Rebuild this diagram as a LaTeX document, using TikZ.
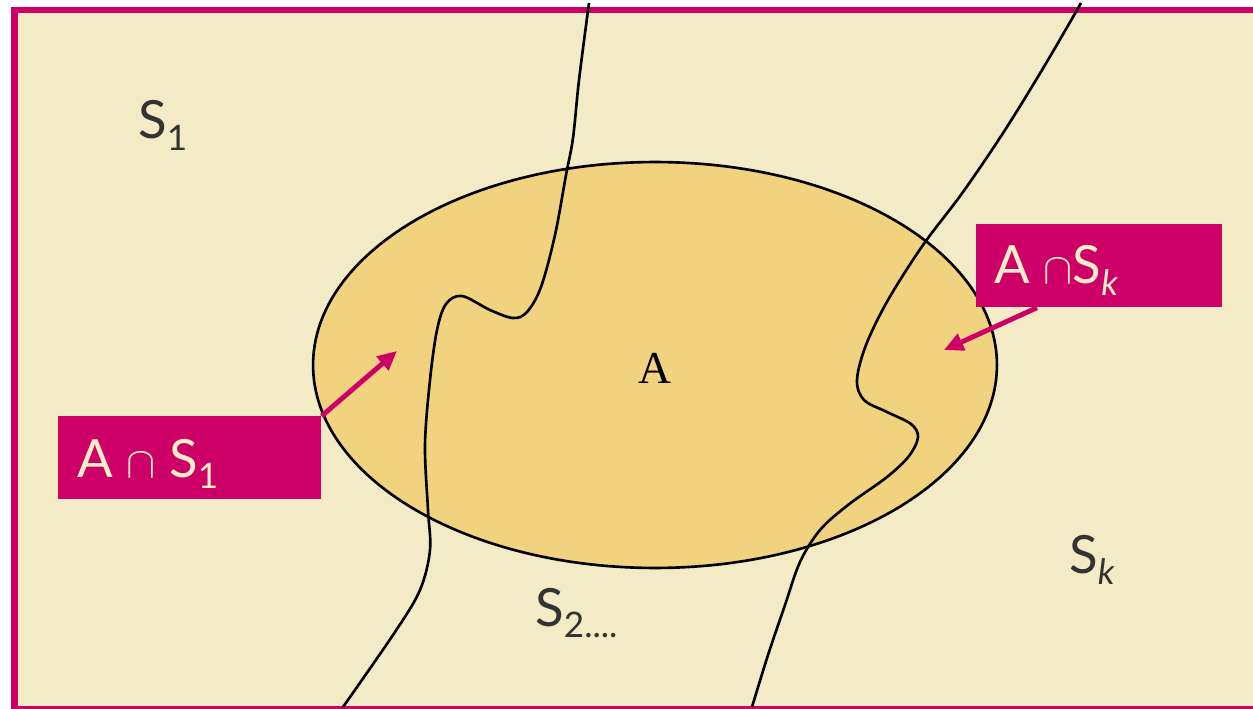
\documentclass[tikz,border=0pt]{standalone}
\usepackage{fontspec}
\setmainfont{Lato}
\newfontfamily\serifA{Liberation Serif}
\usetikzlibrary{arrows.meta}
\definecolor{bgcream}{HTML}{F3EBC6}
\definecolor{ellfill}{HTML}{F0D27F}
\definecolor{mag}{HTML}{CC0066}
\definecolor{txtdark}{HTML}{333333}
\definecolor{lbltxt}{HTML}{F5EDC8}
\newcommand\subx[1]{\raisebox{-6.5pt}{\fontsize{20}{20}\selectfont #1}}
\begin{document}
\begin{tikzpicture}[x=0.02cm,y=-0.02cm,
  curveline/.style={line width=1.5pt, black},
  lblbox/.style={fill=mag, draw=none, inner sep=0pt, anchor=north west, minimum height=1.66cm},
  lbltext/.style={text=lbltxt, anchor=base west, inner sep=0pt, font=\fontsize{30}{36}\selectfont},
  regtext/.style={text=txtdark, anchor=base west, inner sep=0pt, font=\fontsize{30}{36}\selectfont},
  pinkarrow/.style={draw=mag, line width=2.8pt, -{Triangle[length=11pt,width=10pt]}, fill=mag}]
\useasboundingbox (0,0) rectangle (1253,709);
\fill[white] (0,0) rectangle (1253,709);
\begin{scope}
  \clip (0,0) rectangle (1253,709);
  \draw[mag, line width=3.5pt, fill=bgcream] (14.5,10) rectangle (1275,709.5);
\end{scope}
% set A
\draw[fill=ellfill, line width=1.5pt] (655,365) ellipse [x radius=6.84cm, y radius=4.06cm];
% partition curves
\draw[curveline] plot[smooth, tension=0.55] coordinates {
  (589,3) (579,80) (573,138) (566,175) (555,235) (541,287) (527,312) (513,318)
  (490,310) (462,296) (446,304) (437,330) (430,380) (425,445) (428,510) (430,550)
  (420,590) (395,632) (343,707)};
\draw[curveline] plot[smooth, tension=0.55] coordinates {
  (1081,3) (1045,65) (1005,130) (963,192) (923,245) (888,300) (866,345) (857,380)
  (864,400) (887,412) (911,424) (918,437) (909,456) (887,477) (848,505) (820,530)
  (800,562) (785,605) (768,655) (752,707)};
% labels of regions
\node[regtext] (s1) at (138,139) {S\subx{1}};
\node[regtext] (sk) at (1069,573) {S\subx{\itshape k}};
\node[regtext] (s2) at (535,626) {S\subx{2....}};
\node[font=\serifA\fontsize{26}{30}\selectfont, text=black, anchor=base, inner sep=0pt] (a) at (655,383) {A};
% intersection boxes
\node[lblbox, minimum width=5.26cm] (b1) at (58,416) {};
\node[lbltext] (b1t) at (77,477) {A $\cap$ S\subx{1}};
\node[lblbox, minimum width=4.92cm] (b2) at (976,224) {};
\node[lbltext] (b2t) at (994,284) {A $\cap$S\subx{\itshape k}};
% arrows
\coordinate (t1) at (397,351);
\coordinate (t2) at (944,350);
\draw[pinkarrow] (b1.north east) -- (t1);
\draw[pinkarrow] ([xshift=1.22cm]b2.south west) -- (t2);
\end{tikzpicture}
\end{document}
